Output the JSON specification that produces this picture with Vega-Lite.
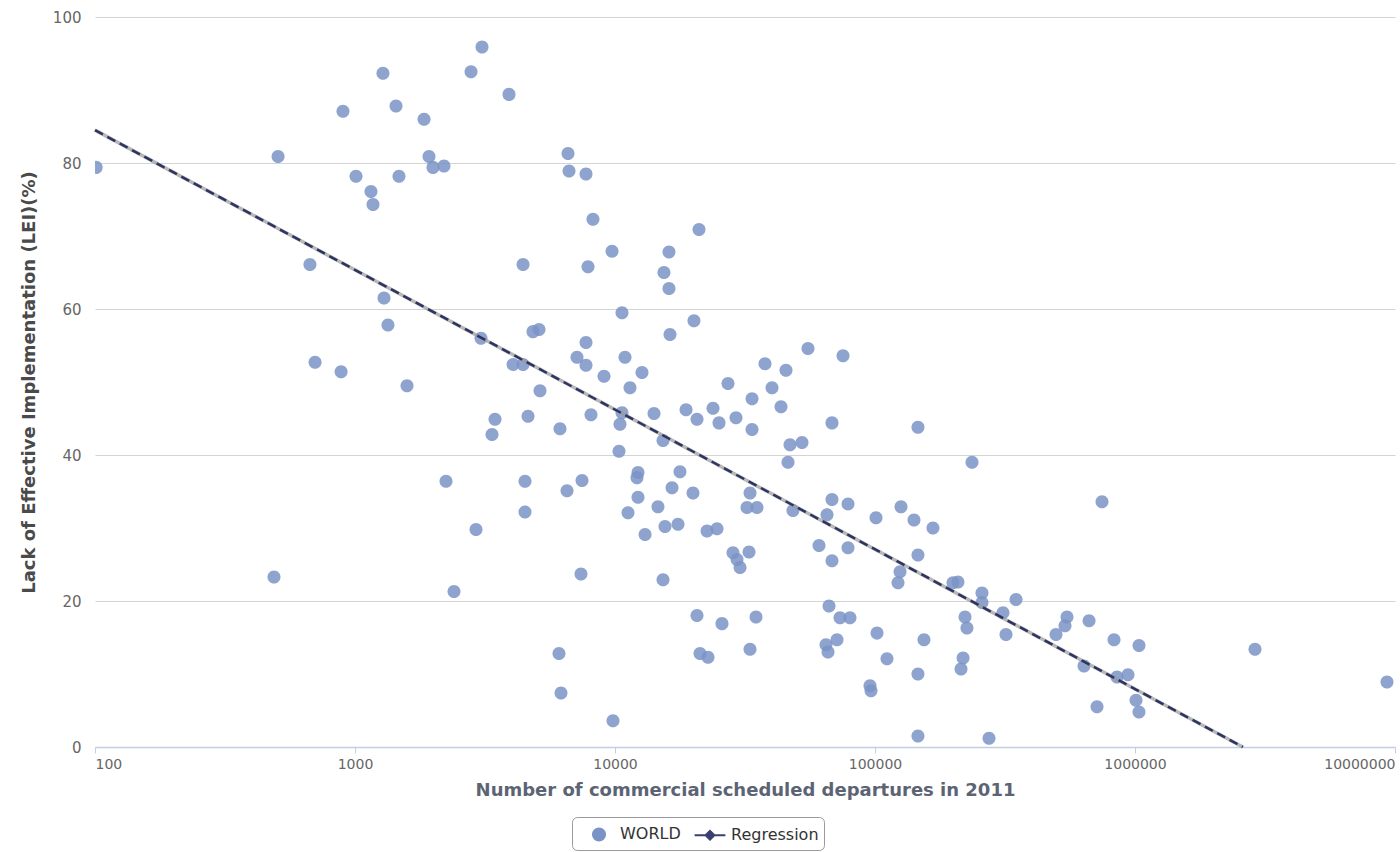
{
  "$schema": "https://vega.github.io/schema/vega-lite/v6.json",
  "width": 1300,
  "height": 730,
  "autosize": {"type": "none"},
  "padding": {"left": 95, "top": 17, "right": 5, "bottom": 105},
  "background": "white",
  "config": {
    "view": {"stroke": null},
    "font": "DejaVu Sans"
  },
  "datasets": {
    "points": [
      {"departures":101,"lei":79.4,"series":"WORLD"},{"departures":506,"lei":80.9,"series":"WORLD"},{"departures":671,"lei":66.1,"series":"WORLD"},{"departures":702,"lei":52.7,"series":"WORLD"},{"departures":884,"lei":51.4,"series":"WORLD"},{"departures":899,"lei":87.1,"series":"WORLD"},{"departures":1009,"lei":78.2,"series":"WORLD"},{"departures":1152,"lei":76.1,"series":"WORLD"},{"departures":1173,"lei":74.3,"series":"WORLD"},{"departures":1281,"lei":92.3,"series":"WORLD"},{"departures":1293,"lei":61.5,"series":"WORLD"},{"departures":1339,"lei":57.8,"series":"WORLD"},{"departures":1438,"lei":87.8,"series":"WORLD"},{"departures":1476,"lei":78.2,"series":"WORLD"},{"departures":1585,"lei":49.5,"series":"WORLD"},{"departures":1843,"lei":86.0,"series":"WORLD"},{"departures":1926,"lei":80.9,"series":"WORLD"},{"departures":1995,"lei":79.4,"series":"WORLD"},{"departures":2199,"lei":79.6,"series":"WORLD"},{"departures":2239,"lei":36.4,"series":"WORLD"},{"departures":2403,"lei":21.3,"series":"WORLD"},{"departures":488,"lei":23.3,"series":"WORLD"},{"departures":2794,"lei":92.5,"series":"WORLD"},{"departures":2920,"lei":29.8,"series":"WORLD"},{"departures":3052,"lei":56.0,"series":"WORLD"},{"departures":3080,"lei":95.9,"series":"WORLD"},{"departures":3365,"lei":42.8,"series":"WORLD"},{"departures":3455,"lei":44.9,"series":"WORLD"},{"departures":3912,"lei":89.4,"series":"WORLD"},{"departures":4053,"lei":52.4,"series":"WORLD"},{"departures":4429,"lei":52.4,"series":"WORLD"},{"departures":4429,"lei":66.1,"series":"WORLD"},{"departures":4507,"lei":36.4,"series":"WORLD"},{"departures":4507,"lei":32.2,"series":"WORLD"},{"departures":4629,"lei":45.3,"series":"WORLD"},
      {"departures":4837,"lei":56.9,"series":"WORLD"},{"departures":5103,"lei":57.2,"series":"WORLD"},{"departures":5147,"lei":48.8,"series":"WORLD"},{"departures":6596,"lei":81.3,"series":"WORLD"},{"departures":6655,"lei":78.9,"series":"WORLD"},{"departures":7735,"lei":78.5,"series":"WORLD"},{"departures":8228,"lei":72.3,"series":"WORLD"},{"departures":21040,"lei":70.9,"series":"WORLD"},{"departures":9739,"lei":67.9,"series":"WORLD"},{"departures":7874,"lei":65.8,"series":"WORLD"},{"departures":16130,"lei":67.8,"series":"WORLD"},{"departures":15430,"lei":65.0,"series":"WORLD"},{"departures":16130,"lei":62.8,"series":"WORLD"},{"departures":10640,"lei":59.5,"series":"WORLD"},{"departures":20125,"lei":58.4,"series":"WORLD"},{"departures":16275,"lei":56.5,"series":"WORLD"},{"departures":7735,"lei":55.4,"series":"WORLD"},{"departures":55240,"lei":54.6,"series":"WORLD"},{"departures":7141,"lei":53.4,"series":"WORLD"},{"departures":10926,"lei":53.4,"series":"WORLD"},{"departures":75330,"lei":53.6,"series":"WORLD"},{"departures":37750,"lei":52.5,"series":"WORLD"},{"departures":45460,"lei":51.6,"series":"WORLD"},{"departures":7735,"lei":52.3,"series":"WORLD"},{"departures":9073,"lei":50.8,"series":"WORLD"},{"departures":12700,"lei":51.3,"series":"WORLD"},{"departures":27200,"lei":49.8,"series":"WORLD"},{"departures":40170,"lei":49.2,"series":"WORLD"},{"departures":11420,"lei":49.2,"series":"WORLD"},{"departures":33650,"lei":47.7,"series":"WORLD"},{"departures":43500,"lei":46.6,"series":"WORLD"},{"departures":18760,"lei":46.2,"series":"WORLD"},{"departures":23820,"lei":46.4,"series":"WORLD"},{"departures":6144,"lei":43.6,"series":"WORLD"},{"departures":8084,"lei":45.5,"series":"WORLD"},{"departures":10640,"lei":45.8,"series":"WORLD"},{"departures":14125,"lei":45.7,"series":"WORLD"},{"departures":20670,"lei":44.9,"series":"WORLD"},{"departures":25120,"lei":44.4,"series":"WORLD"},{"departures":29200,"lei":45.1,"series":"WORLD"},{"departures":33650,"lei":43.5,"series":"WORLD"},{"departures":68320,"lei":44.4,"series":"WORLD"},{"departures":146300,"lei":43.8,"series":"WORLD"},{"departures":10450,"lei":44.2,"series":"WORLD"},{"departures":15300,"lei":42.0,"series":"WORLD"},{"departures":10360,"lei":40.5,"series":"WORLD"},{"departures":47110,"lei":41.4,"series":"WORLD"},{"departures":52390,"lei":41.7,"series":"WORLD"},{"departures":46280,"lei":39.0,"series":"WORLD"},{"departures":236100,"lei":39.0,"series":"WORLD"},{"departures":6538,"lei":35.1,"series":"WORLD"},{"departures":7467,"lei":36.5,"series":"WORLD"},{"departures":12260,"lei":37.6,"series":"WORLD"},{"departures":12150,"lei":36.9,"series":"WORLD"},{"departures":17780,"lei":37.7,"series":"WORLD"},{"departures":16570,"lei":35.5,"series":"WORLD"},{"departures":19950,"lei":34.8,"series":"WORLD"},{"departures":12260,"lei":34.2,"series":"WORLD"},{"departures":33060,"lei":34.8,"series":"WORLD"},{"departures":14630,"lei":32.9,"series":"WORLD"},{"departures":32190,"lei":32.8,"series":"WORLD"},{"departures":35170,"lei":32.8,"series":"WORLD"},{"departures":11220,"lei":32.1,"series":"WORLD"},{"departures":48360,"lei":32.4,"series":"WORLD"},{"departures":68320,"lei":33.9,"series":"WORLD"},{"departures":78740,"lei":33.3,"series":"WORLD"},{"departures":65380,"lei":31.8,"series":"WORLD"},{"departures":100900,"lei":31.4,"series":"WORLD"},{"departures":125900,"lei":32.9,"series":"WORLD"},{"departures":141250,"lei":31.1,"series":"WORLD"},{"departures":167100,"lei":30.0,"series":"WORLD"},{"departures":15570,"lei":30.2,"series":"WORLD"},{"departures":17470,"lei":30.5,"series":"WORLD"},{"departures":13050,"lei":29.1,"series":"WORLD"},{"departures":22590,"lei":29.6,"series":"WORLD"},{"departures":24680,"lei":29.9,"series":"WORLD"},{"departures":28430,"lei":26.6,"series":"WORLD"},{"departures":32770,"lei":26.7,"series":"WORLD"},{"departures":30260,"lei":24.6,"series":"WORLD"},{"departures":29460,"lei":25.7,"series":"WORLD"},{"departures":60900,"lei":27.6,"series":"WORLD"},{"departures":78740,"lei":27.3,"series":"WORLD"},{"departures":68320,"lei":25.5,"series":"WORLD"},{"departures":146300,"lei":26.3,"series":"WORLD"},{"departures":124800,"lei":24.0,"series":"WORLD"},{"departures":122600,"lei":22.5,"series":"WORLD"},{"departures":199500,"lei":22.5,"series":"WORLD"},{"departures":208500,"lei":22.6,"series":"WORLD"},{"departures":7399,"lei":23.7,"series":"WORLD"},{"departures":15300,"lei":22.9,"series":"WORLD"},{"departures":66550,"lei":19.3,"series":"WORLD"},{"departures":73350,"lei":17.7,"series":"WORLD"},{"departures":80130,"lei":17.7,"series":"WORLD"},{"departures":101800,"lei":15.6,"series":"WORLD"},{"departures":154300,"lei":14.7,"series":"WORLD"},{"departures":20670,"lei":18.0,"series":"WORLD"},{"departures":25790,"lei":16.9,"series":"WORLD"},{"departures":34860,"lei":17.8,"series":"WORLD"},{"departures":64790,"lei":14.0,"series":"WORLD"},{"departures":71420,"lei":14.7,"series":"WORLD"},{"departures":65960,"lei":13.0,"series":"WORLD"},{"departures":111200,"lei":12.1,"series":"WORLD"},{"departures":146300,"lei":10.0,"series":"WORLD"},{"departures":6089,"lei":12.8,"series":"WORLD"},{"departures":21230,"lei":12.8,"series":"WORLD"},{"departures":22790,"lei":12.3,"series":"WORLD"},{"departures":33060,"lei":13.4,"series":"WORLD"},{"departures":6199,"lei":7.4,"series":"WORLD"},{"departures":96520,"lei":7.7,"series":"WORLD"},{"departures":95680,"lei":8.4,"series":"WORLD"},{"departures":9825,"lei":3.6,"series":"WORLD"},{"departures":146300,"lei":1.5,"series":"WORLD"},{"departures":274500,"lei":1.2,"series":"WORLD"},
      {"departures":746700,"lei":33.6,"series":"WORLD"},{"departures":257900,"lei":21.1,"series":"WORLD"},{"departures":257900,"lei":19.8,"series":"WORLD"},{"departures":348600,"lei":20.2,"series":"WORLD"},{"departures":221900,"lei":17.8,"series":"WORLD"},{"departures":225800,"lei":16.3,"series":"WORLD"},{"departures":310700,"lei":18.4,"series":"WORLD"},{"departures":319000,"lei":15.4,"series":"WORLD"},{"departures":547600,"lei":17.8,"series":"WORLD"},{"departures":538000,"lei":16.6,"series":"WORLD"},{"departures":496800,"lei":15.4,"series":"WORLD"},{"departures":665600,"lei":17.3,"series":"WORLD"},{"departures":830300,"lei":14.7,"series":"WORLD"},{"departures":1036000,"lei":13.9,"series":"WORLD"},{"departures":2894000,"lei":13.4,"series":"WORLD"},{"departures":218100,"lei":12.2,"series":"WORLD"},{"departures":214200,"lei":10.7,"series":"WORLD"},{"departures":636600,"lei":11.1,"series":"WORLD"},{"departures":852600,"lei":9.6,"series":"WORLD"},{"departures":939900,"lei":9.9,"series":"WORLD"},{"departures":1009000,"lei":6.4,"series":"WORLD"},{"departures":1036000,"lei":4.8,"series":"WORLD"},{"departures":714300,"lei":5.5,"series":"WORLD"},{"departures":9316000,"lei":8.9,"series":"WORLD"}
    ],
    "regression": [
      {"departures": 100, "lei": 84.5},
      {"departures": 2600000, "lei": 0}
    ]
  },
  "layer": [
    {
      "data": {"name": "points"},
      "mark": {"type": "point", "filled": true, "size": 560, "opacity": 0.85, "clip": true},
      "encoding": {
        "x": {
          "field": "departures", "type": "quantitative",
          "scale": {"type": "log", "domain": [100, 10000000], "nice": false},
          "axis": {
            "values": [100, 1000, 10000, 100000, 1000000, 10000000],
            "format": "d",
            "title": "Number of commercial scheduled departures in 2011",
            "titleFont": "DejaVu Sans", "titleFontSize": 18, "titleFontWeight": "bold", "titleColor": "#5c6474",
            "titlePadding": 10,
            "labelFont": "DejaVu Sans", "labelFontSize": 14, "labelColor": "#666666",
            "labelFlush": true, "labelPadding": 4,
            "domainColor": "#c0d0e0", "domainWidth": 1.5,
            "ticks": true, "tickColor": "#c0d0e0", "tickSize": 6,
            "grid": false
          }
        },
        "y": {
          "field": "lei", "type": "quantitative",
          "scale": {"domain": [0, 100], "nice": false},
          "axis": {
            "values": [0, 20, 40, 60, 80, 100],
            "title": "Lack of Effective Implementation (LEI)(%)",
            "titleFont": "DejaVu Sans", "titleFontSize": 18, "titleFontWeight": "bold", "titleColor": "#4a4a4a",
            "titlePadding": 14,
            "labelFont": "DejaVu Sans", "labelFontSize": 15, "labelColor": "#666666",
            "labelPadding": 14,
            "domain": false, "ticks": false,
            "grid": true, "gridColor": "#d4d4d4", "gridWidth": 1
          }
        },
        "color": {
          "field": "series", "type": "nominal",
          "scale": {"domain": ["WORLD", "Regression"], "range": ["#7a93c6", "#3b3f72"]},
          "legend": {
            "title": null,
            "orient": "none", "legendX": 477, "legendY": 800,
            "direction": "horizontal",
            "strokeColor": "#9a9a9a", "cornerRadius": 5, "padding": 5,
            "fillColor": "white",
            "labelFont": "DejaVu Sans", "labelFontSize": 16, "labelColor": "#333333",
            "symbolSize": 484, "symbolOffset": 10, "labelOffset": 9, "columnPadding": 7,
            "symbolOpacity": 1,
            "encode": {
              "symbols": {
                "update": {
                  "stroke": {"scale": "color", "field": "value"},
                  "strokeWidth": {"value": 2}
                }
              }
            }
          }
        },
        "shape": {
          "field": "series", "type": "nominal",
          "scale": {
            "domain": ["WORLD", "Regression"],
            "range": [
              "M-0.55,0A0.55,0.55,0,1,0,0.55,0A0.55,0.55,0,1,0,-0.55,0Z",
              "M-1.4,0L1.4,0M-0.4,0L0,-0.4L0.4,0L0,0.4Z"
            ]
          },
          "legend": null
        }
      }
    },
    {
      "data": {"name": "regression"},
      "mark": {"type": "line", "color": "#9a9a9a", "strokeWidth": 3.5, "opacity": 0.7},
      "encoding": {
        "x": {"field": "departures", "type": "quantitative"},
        "y": {"field": "lei", "type": "quantitative"}
      }
    },
    {
      "data": {"name": "regression"},
      "mark": {"type": "line", "color": "#2d3463", "strokeWidth": 2.5, "strokeDash": [9, 5]},
      "encoding": {
        "x": {"field": "departures", "type": "quantitative"},
        "y": {"field": "lei", "type": "quantitative"}
      }
    }
  ]
}
